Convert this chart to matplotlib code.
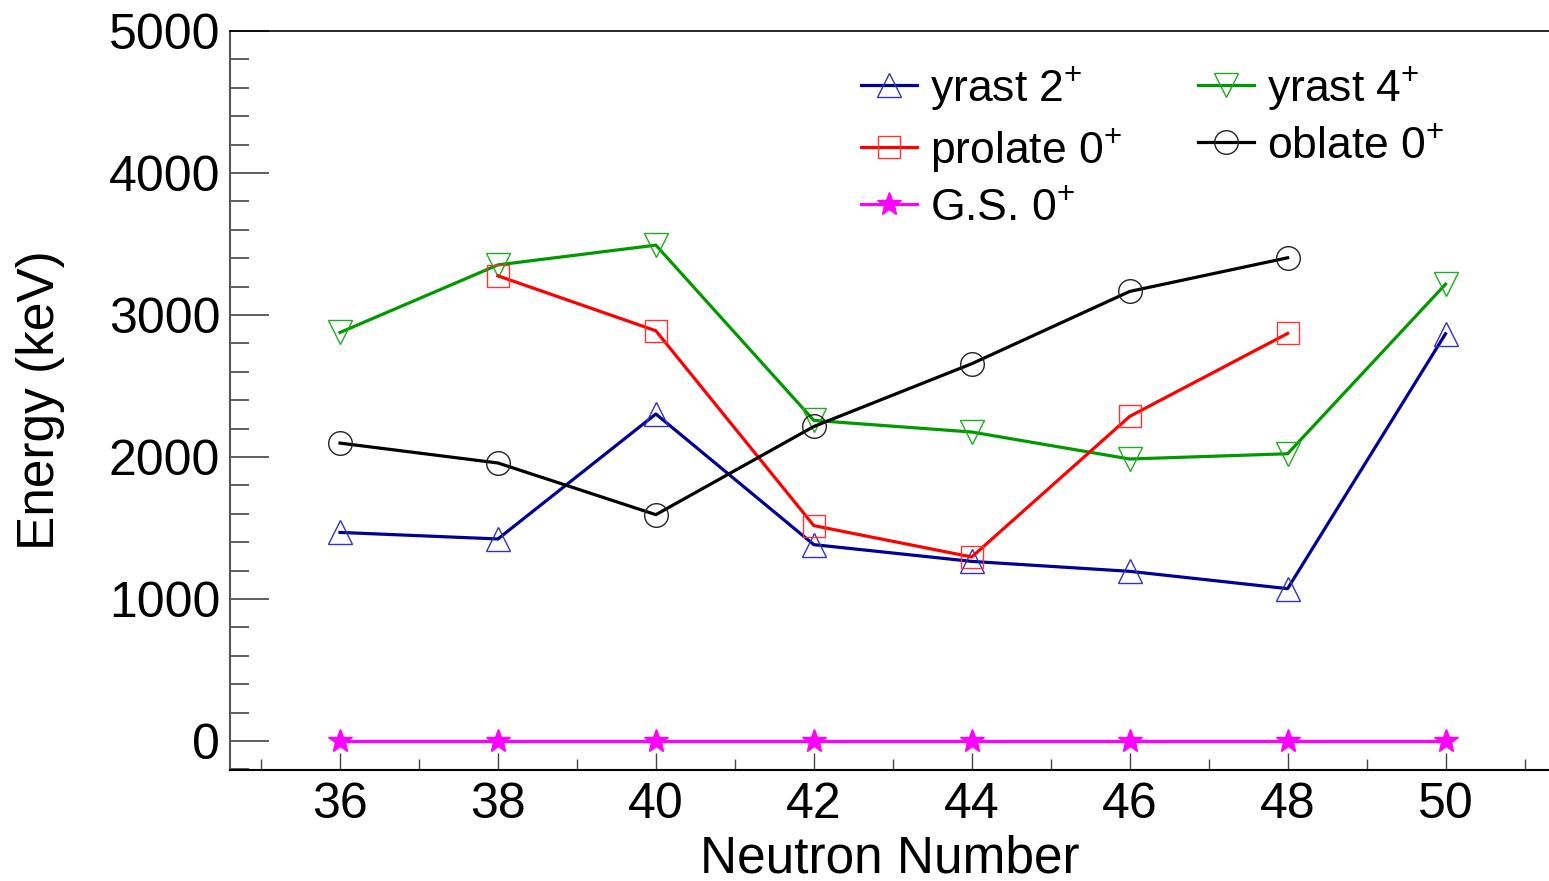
import matplotlib
matplotlib.use("Agg")
import matplotlib.pyplot as plt
from matplotlib.ticker import MultipleLocator

plt.rcParams['font.family'] = ['Liberation Sans', 'DejaVu Sans']
plt.rcParams['mathtext.fontset'] = 'custom'
plt.rcParams['mathtext.rm'] = 'Liberation Sans'
plt.rcParams['mathtext.default'] = 'regular'

# Neutron numbers and level energies (keV)
n_all = [36, 38, 40, 42, 44, 46, 48, 50]
yrast2 = [1469, 1423, 2303, 1383, 1265, 1195, 1073, 2868]
yrast4 = [2877, 3353, 3492, 2258, 2176, 1986, 2023, 3217]

n_prolate = [38, 40, 42, 44, 46, 48]
prolate0 = [3276, 2889, 1517, 1296, 2286, 2870]

n_oblate = [36, 38, 40, 42, 44, 46, 48]
oblate0 = [2098, 1958, 1594, 2215, 2657, 3166, 3403]

gs0 = [0, 0, 0, 0, 0, 0, 0, 0]

x_ticks = [36, 38, 40, 42, 44, 46, 48, 50]
y_ticks = [0, 1000, 2000, 3000, 4000, 5000]

fig = plt.figure(figsize=(15.49, 8.81), dpi=100)
ax = fig.add_axes([230 / 1549, 111 / 881, 1319 / 1549, 739 / 881])

lw = 2.3
ms = 17
h2, = ax.plot(n_all, yrast2, color='#000099', lw=lw, marker='^', ms=ms,
              mfc='none', mec='#3333bb', mew=1.0, label=r'yrast 2$^{+}$')
h4, = ax.plot(n_all, yrast4, color='#009900', lw=lw, marker='v', ms=ms,
              mfc='none', mec='#22aa22', mew=1.0, label=r'yrast 4$^{+}$')
hp, = ax.plot(n_prolate, prolate0, color='#ff0000', lw=lw, marker='s', ms=ms - 0.5,
              mfc='none', mec='#ff3333', mew=1.0, label=r'prolate 0$^{+}$')
ho, = ax.plot(n_oblate, oblate0, color='black', lw=lw, marker='o', ms=ms,
              mfc='none', mec='#222222', mew=1.0, label=r'oblate 0$^{+}$')
hg, = ax.plot(n_all, gs0, color='#ff00ff', lw=lw, marker='*', ms=18,
              mfc='#ff00ff', mec='#ff00ff', mew=1.0, label=r'G.S. 0$^{+}$')

ax.set_xlim(34.607, 51.31)
ax.set_ylim(-204, 5000)

ax.set_xticks(x_ticks)
ax.set_yticks(y_ticks)
ax.xaxis.set_minor_locator(MultipleLocator(1))
ax.yaxis.set_minor_locator(MultipleLocator(200))

ax.tick_params(axis='both', which='both', direction='in', labelsize=36,
               colors='#444444', labelcolor='black')
ax.tick_params(axis='x', which='major', length=12, width=1.0, pad=9)
ax.tick_params(axis='x', which='minor', length=8, width=1.0)
ax.tick_params(axis='y', which='major', length=28, width=1.2, pad=7)
ax.tick_params(axis='y', which='minor', length=14, width=1.2)
ax.tick_params(top=False, right=False, which='both')

ax.spines['right'].set_visible(False)
ax.spines['left'].set_color('#555555')
ax.spines['left'].set_linewidth(1.5)
ax.spines['bottom'].set_color('black')
ax.spines['bottom'].set_linewidth(1.5)
ax.spines['top'].set_color('black')
ax.spines['top'].set_linewidth(1.2)

ax.set_xlabel('Neutron Number', fontsize=37)
ax.set_ylabel('Energy (keV)', fontsize=37)
ax.xaxis.set_label_coords(0.5, -0.087)
ax.yaxis.set_label_coords(-0.125, 0.5)

leg = ax.legend(handles=[h2, hp, hg, h4, ho], ncol=2, frameon=False,
                fontsize=32, loc='upper left',
                bbox_to_anchor=((861 - 230) / 1319, (770 - 64) / 739),
                handlelength=1.26, handletextpad=0.3, columnspacing=1.7,
                labelspacing=0.31, borderaxespad=0, borderpad=0)

fig.savefig('out.png', dpi=100)
